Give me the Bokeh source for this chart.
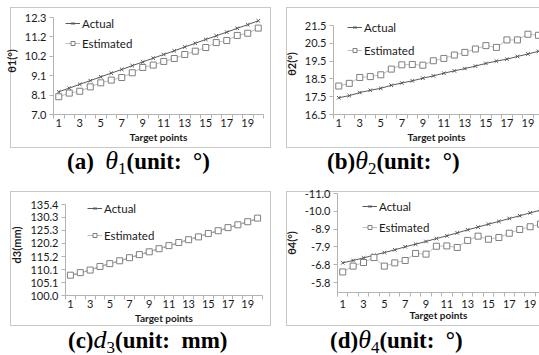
from bokeh.plotting import figure
from bokeh.models import Range1d, FixedTicker, PrintfTickFormatter, Legend, LegendItem, Div
from bokeh.embed import file_html
from bokeh.resources import INLINE

# ---------------- data ----------------
points = list(range(1, 21))
x_label_ticks = [1, 3, 5, 7, 9, 11, 13, 15, 17, 19]
x_boundaries = [0.5 + i for i in range(21)]

theta1_actual = [8.24, 8.44, 8.65, 8.85, 9.06, 9.26, 9.46, 9.67, 9.87, 10.08,
                 10.28, 10.48, 10.69, 10.89, 11.10, 11.30, 11.50, 11.71, 11.91, 12.12]
theta1_estimated = [7.97, 8.17, 8.27, 8.51, 8.73, 8.88, 9.02, 9.28, 9.57, 9.70,
                    9.90, 10.06, 10.28, 10.46, 10.66, 10.93, 11.04, 11.32, 11.44, 11.72]
theta1_ticks = [7.0, 8.06, 9.12, 10.18, 11.24, 12.3]

theta2_actual = [17.44, 17.56, 17.73, 17.86, 17.97, 18.14, 18.27, 18.39, 18.54, 18.67,
                 18.82, 18.95, 19.08, 19.22, 19.37, 19.50, 19.61, 19.76, 19.90, 20.05]
theta2_estimated = [18.10, 18.25, 18.58, 18.63, 18.73, 19.05, 19.29, 19.31, 19.27, 19.52,
                    19.65, 19.84, 19.99, 20.18, 20.37, 20.27, 20.69, 20.69, 21.01, 20.95]
theta2_ticks = [16.5, 17.5, 18.5, 19.5, 20.5, 21.5]

d3_actual = [107.8, 108.8, 109.9, 111.2, 112.4, 113.4, 114.7, 115.8, 117.0, 118.2,
             119.3, 120.5, 121.7, 122.9, 124.1, 125.1, 126.3, 127.5, 128.7, 129.9]
d3_estimated = [107.9, 108.9, 109.9, 111.3, 112.4, 113.5, 114.7, 115.9, 117.0, 118.2,
                119.4, 120.6, 121.7, 122.8, 124.1, 125.2, 126.4, 127.5, 128.7, 130.1]
d3_ticks = [100.0, 105.057, 110.114, 115.171, 120.229, 125.286, 130.343, 135.4]

theta4_actual = [-6.95, -7.09, -7.24, -7.40, -7.55, -7.71, -7.89, -8.04, -8.20, -8.37,
                 -8.53, -8.70, -8.88, -9.04, -9.21, -9.37, -9.54, -9.70, -9.87, -10.03]
theta4_estimated = [-6.42, -6.76, -6.97, -7.26, -6.76, -6.95, -7.09, -7.50, -7.46, -7.92,
                    -7.94, -7.85, -8.26, -8.51, -8.33, -8.43, -8.68, -8.90, -9.06, -9.21]
theta4_ticks = [-11.0, -9.96, -8.92, -7.88, -6.84, -5.8]

series_names = ["Actual", "Estimated"]
x_title = "Target points"

FONT = "Lato"
AXIS_GRAY = "#b3b3b3"
BOX_COLOR = "#c8c8c8"
TXT = "#1a1a1a"

MB_L, MB_T, MB_B = 60, 26, 44   # generous borders: axes are laid out from the frame


def abs_style(x, y):
    return {"position": "absolute", "left": f"{x}px", "top": f"{y}px"}


def panel(ylabel, yticks, y_start, y_end, actual, est, fx, fy, fw, fh, ext, mr,
          x_end, leg_x, leg_cy, leg_sp, lab_so, title_so):
    # extend the frame upwards by `ext` px (room for the legend), axis line kept to the data span
    y_top = y_end + (y_end - y_start) * ext / fh
    fh2 = fh + ext
    p = figure(frame_width=fw, frame_height=fh2, x_range=Range1d(0.5, x_end),
               y_range=Range1d(y_start, y_top), output_backend="svg", title=None,
               toolbar_location=None, min_border_left=MB_L, min_border_top=MB_T,
               min_border_right=mr, min_border_bottom=MB_B)
    p.xgrid.visible = False
    p.ygrid.visible = False
    p.outline_line_color = None
    p.background_fill_alpha = 0
    p.border_fill_alpha = 0

    la = p.line(points, actual, line_color="#595959", line_width=1)
    sa = p.scatter(points, actual, marker="x", size=5, line_color="#595959", line_width=1)
    le = p.line(points, est, line_color="#bfbfbf", line_width=1)
    se = p.scatter(points, est, marker="square", size=6, line_color="#7f7f7f",
                   fill_color="white", line_width=1)

    ya = p.yaxis[0]
    ya.bounds = (min(y_start, y_end), max(y_start, y_end))
    ya.ticker = FixedTicker(ticks=yticks)
    ya.formatter = PrintfTickFormatter(format="%.1f")
    ya.major_tick_out = 4
    ya.major_tick_in = 0
    ya.minor_tick_out = 0
    ya.axis_line_color = AXIS_GRAY
    ya.major_tick_line_color = AXIS_GRAY
    ya.major_label_text_font = FONT
    ya.major_label_text_font_size = "11px"
    ya.major_label_text_color = TXT
    ya.major_label_standoff = 3
    ya.axis_label = ylabel
    ya.axis_label_text_font = FONT
    ya.axis_label_text_font_style = "bold"
    ya.axis_label_text_font_size = "11px"
    ya.axis_label_text_color = TXT
    ya.axis_label_standoff = 4

    xa = p.xaxis[0]
    xa.ticker = FixedTicker(ticks=x_label_ticks, minor_ticks=x_boundaries)
    xa.major_tick_out = 0
    xa.major_tick_in = 0
    xa.minor_tick_out = 4
    xa.minor_tick_in = 0
    xa.minor_tick_line_color = AXIS_GRAY
    xa.axis_line_color = AXIS_GRAY
    xa.major_label_text_font = FONT
    xa.major_label_text_font_size = "11px"
    xa.major_label_text_color = TXT
    xa.major_label_standoff = lab_so
    xa.axis_label = x_title
    xa.axis_label_text_font = FONT
    xa.axis_label_text_font_style = "bold"
    xa.axis_label_text_font_size = "10px"
    xa.axis_label_text_color = TXT
    xa.axis_label_standoff = title_so

    rh = 14
    top = ext + leg_cy - rh / 2
    height = 2 * rh + leg_sp
    bottom = fh2 - (top + height)
    leg = Legend(items=[LegendItem(label=series_names[0], renderers=[la, sa]),
                        LegendItem(label=series_names[1], renderers=[le, se])],
                 location=(leg_x, bottom), orientation="vertical",
                 glyph_width=15, glyph_height=10, label_height=rh, spacing=leg_sp,
                 padding=0, margin=0, label_standoff=2,
                 label_text_font=FONT, label_text_font_size="11.5px",
                 label_text_color=TXT,
                 border_line_alpha=0, background_fill_alpha=0)
    p.add_layout(leg, "center")
    p.styles = abs_style(fx - MB_L, fy - ext - MB_T)
    return p


def box(x, y, w, h, right=True):
    st = abs_style(x, y)
    b = f"1px solid {BOX_COLOR}"
    st.update({"border-top": b, "border-left": b, "border-bottom": b})
    if right:
        st["border-right"] = b
    return Div(text="", width=w, height=h, styles=st)


boxes = [box(5, 2, 261, 141), box(281, 2, 257, 141, right=False),
         box(5, 186, 261, 135), box(281, 186, 257, 135, right=False)]

pa = panel("θ1(°)", theta1_ticks, 7.0, 12.3, theta1_actual, theta1_estimated,
           53, 17, 210, 97, 10, 5, 20.5, 12, 6, 6, 0, 1)
pb = panel("θ2(°)", theta2_ticks, 16.5, 21.5, theta2_actual, theta2_estimated,
           333, 25, 206, 89, 12, 0, 20.1, 14, 2, 9, 0, 1)
pc = panel("d3(mm)", d3_ticks, 100.0, 135.4, d3_actual, d3_estimated,
           65, 204, 197, 91, 10, 5, 20.5, 22, 4, 13, 0, 1)
pd = panel("θ4(°)", theta4_ticks, -5.22, -11.0, theta4_actual, theta4_estimated,
           337, 193, 202, 99, 0, 0, 19.9, 25, 13, 7, 3, -2)

B = "font-family:'Liberation Serif';font-weight:bold;font-size:23px;"
T = "font-family:'Liberation Serif';font-style:italic;font-weight:normal;font-size:26px;"
S = "font-family:'Liberation Serif';font-weight:normal;font-size:17px;vertical-align:-5px;"


def caption(tag, gap, sym, sub, unit, x, y, w, h, pad_top):
    html = (f"<div style='white-space:nowrap;line-height:26px;padding-top:{pad_top}px;color:#000'>"
            f"<span style=\"{B}\">({tag}){gap}</span>"
            f"<span style=\"{T}\">{sym}</span><span style=\"{S}\">{sub}</span>"
            f"<span style=\"{B}\">(unit:&nbsp; {unit})</span></div>")
    return Div(text=html, width=w, height=h, styles=abs_style(x, y))


captions = [caption("a", "&nbsp;&nbsp;", "θ", "1", "°", 62, 143, 200, 36, 0),
            caption("b", "", "θ", "2", "°", 322, 143, 200, 36, 0),
            caption("c", "", "d", "3", "mm", 63, 316, 200, 39, 6),
            caption("d", "", "θ", "4", "°", 325, 316, 200, 39, 6)]

roots = boxes + [pa, pb, pc, pd] + captions
open("out.html", "w").write(file_html(roots, INLINE))
